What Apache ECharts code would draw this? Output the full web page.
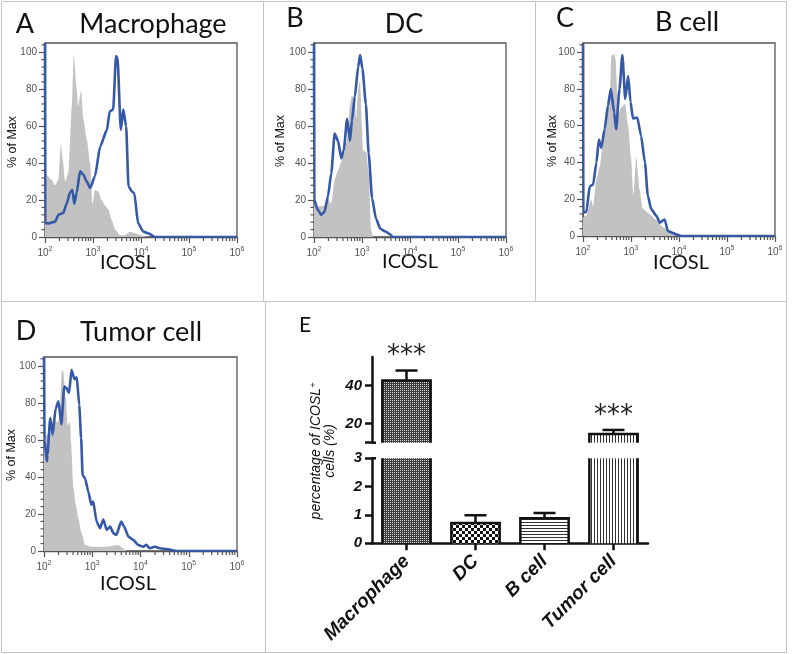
<!DOCTYPE html>
<html><head><meta charset="utf-8">
<script src="https://cdn.jsdelivr.net/npm/echarts@6/dist/echarts.min.js"></script>
<style>html,body{margin:0;padding:0;background:#fff}#c{width:793px;height:654px}</style>
</head><body><div id="c"></div>
<script>
// ---------------- DATA ----------------
const histTitles = ['Macrophage', 'DC', 'B cell', 'Tumor cell'];
const panelLetters = ['A', 'B', 'C', 'D', 'E'];
const xAxisTitle = 'ICOSL';
const yAxisTitle = '% of Max';
const xTickExponents = [2, 3, 4, 5, 6];           // labels 10^2 ... 10^6
const yTickValues = [0, 20, 40, 60, 80, 100];

// each point: [log10(ICOSL intensity), % of Max]
const macroIsotype = [[2.00,35],[2.14,31],[2.21,28],[2.28,31],[2.33,50],[2.37,42],[2.42,30],[2.49,35],[2.56,71],[2.60,99],[2.66,80],[2.69,71],[2.75,79],[2.80,64],[2.87,53],[2.94,40],[2.99,18],[3.04,25.5],[3.11,24.6],[3.18,20],[3.25,17],[3.32,15],[3.39,9],[3.46,4],[3.56,1],[3.67,1],[3.77,3],[3.88,2],[3.98,1],[4.12,0]];
const macroICOSL = [[2.00,105],[2.005,7.5],[2.07,7.4],[2.21,8.3],[2.28,12],[2.38,13],[2.45,18],[2.52,24],[2.57,25.5],[2.61,18],[2.66,24],[2.73,35.5],[2.80,33.7],[2.87,30],[2.94,26.5],[3.04,32.8],[3.15,49],[3.29,58],[3.35,68],[3.42,69],[3.48,98],[3.51,97],[3.58,58],[3.63,69],[3.69,60],[3.74,27.4],[3.81,24.6],[3.86,23.7],[3.94,7.4],[4.05,2.9],[4.15,2],[4.29,0],[6.00,0]];

const dcIsotype = [[2.00,18],[2.08,16.5],[2.22,17],[2.29,21],[2.36,18],[2.43,31],[2.50,36],[2.57,41],[2.64,46],[2.69,53],[2.75,71],[2.78,76],[2.85,76],[2.88,64],[2.92,80],[2.96,85],[3.00,60],[3.02,47],[3.09,46],[3.14,35],[3.19,4],[3.23,0]];
const dcICOSL = [[2.00,105],[2.005,20],[2.08,14.6],[2.15,12],[2.22,13.7],[2.29,22],[2.36,34.5],[2.43,56],[2.50,52],[2.57,42.5],[2.62,47],[2.69,64],[2.75,52],[2.79,63],[2.85,76],[2.92,92],[2.96,98.5],[3.01,91],[3.08,72],[3.14,45],[3.21,21],[3.29,10],[3.38,4.5],[3.49,3],[3.58,1.5],[3.64,0],[6.00,0]];

const bIsotype = [[2.00,10],[2.07,11],[2.17,20],[2.21,16],[2.28,31],[2.35,38],[2.42,51],[2.49,64],[2.56,75],[2.59,98],[2.65,99],[2.68,96],[2.73,66],[2.80,70],[2.88,72],[2.94,60],[3.00,43],[3.05,22],[3.11,43],[3.18,25],[3.24,15],[3.38,12],[3.52,9],[3.66,5],[3.80,2.7],[3.94,1.5],[4.02,0]];
const bICOSL = [[2.00,105],[2.005,13],[2.07,13],[2.14,27],[2.21,28],[2.28,40],[2.33,52.5],[2.38,48],[2.45,58],[2.52,71],[2.58,80],[2.65,67],[2.69,58],[2.76,80],[2.82,98.5],[2.88,74.5],[2.94,87],[2.99,73],[3.04,64],[3.13,64.5],[3.21,54.5],[3.29,40],[3.35,22],[3.42,14.6],[3.53,11],[3.60,7.3],[3.70,9],[3.77,2.7],[3.86,1.8],[3.94,0.9],[4.05,0],[6.00,0]];

const tumorIsotype = [[2.00,61],[2.16,65],[2.23,70],[2.30,70],[2.33,77],[2.37,98],[2.40,97],[2.45,83],[2.49,68],[2.54,70],[2.56,59],[2.61,34],[2.66,25],[2.71,18],[2.78,9.6],[2.85,3.3],[2.99,2.3],[3.26,2.3],[3.54,3.3],[3.64,1.5],[3.71,0]];
const tumorICOSL = [[2.00,105],[2.01,60],[2.06,48.5],[2.07,52],[2.13,72],[2.18,63],[2.24,77],[2.30,81],[2.36,68.5],[2.42,89],[2.47,88],[2.52,85.6],[2.57,98],[2.63,93],[2.68,94],[2.73,79],[2.77,61],[2.80,41],[2.85,39.4],[2.92,32],[2.98,25],[3.02,26.7],[3.09,16],[3.16,12.3],[3.23,17],[3.30,11.4],[3.37,13.2],[3.44,9.6],[3.50,8.7],[3.60,16],[3.66,13.2],[3.75,7.8],[3.85,6],[3.95,3.3],[4.06,2.3],[4.12,3.3],[4.19,1.5],[4.30,2.3],[4.40,1.5],[4.54,1],[4.75,0],[6.00,0]];

// panel E
const barCategories = ['Macrophage', 'DC', 'B cell', 'Tumor cell'];
const barMeans = [42.6, 0.72, 0.88, 14.6];
const barErrors = [5.3, 0.27, 0.19, 2.1];
const barSignificance = ['***', '', '', '***'];
const upperTickValues = [20, 40];
const lowerTickValues = [0, 1, 2, 3];

// ---------------- STYLE / LAYOUT ----------------
const isotypeSets = [macroIsotype, dcIsotype, bIsotype, tumorIsotype];
const icoslSets = [macroICOSL, dcICOSL, bICOSL, tumorICOSL];
const histGrids = [
  {left: 45, top: 43, width: 192, height: 194},
  {left: 314, top: 43, width: 192, height: 194},
  {left: 583, top: 43, width: 192, height: 193},
  {left: 44, top: 357, width: 193, height: 194}
];
const eUpperRect = {left: 372, top: 357, width: 276, height: 85.7};   // 10..55
const eLowerRect = {left: 372, top: 458.3, width: 276, height: 85};   // 0..3
const BLUE = '#3558a8', GREY = '#c2c2c2', FRAME = '#555', TXT = '#555';

const minorLog = [];
for (let n = 2; n < 6; n++) for (let k = 2; k <= 9; k++) minorLog.push(n + Math.log10(k));
const yMinor = [];
for (let v = 0; v <= 104; v += 4) if (v % 20) yMinor.push(v);

function makePattern(kind) {
  const c = document.createElement('canvas');
  const g = c.getContext('2d');
  if (kind === 'dense') {
    c.width = 2; c.height = 2;
    g.fillStyle = '#3c3c3c'; g.fillRect(0, 0, 2, 2);
    g.fillStyle = '#d8d8d8'; g.fillRect(0, 0, 1, 1);
  } else if (kind === 'checker') {
    c.width = 6; c.height = 6;
    g.fillStyle = '#111'; g.fillRect(0, 0, 6, 6);
    g.fillStyle = '#fff'; g.fillRect(0, 0, 3, 3); g.fillRect(3, 3, 3, 3);
  } else if (kind === 'hlines') {
    c.width = 4; c.height = 3;
    g.fillStyle = '#fff'; g.fillRect(0, 0, 4, 3);
    g.fillStyle = '#333'; g.fillRect(0, 0, 4, 1);
  } else {
    c.width = 3; c.height = 4;
    g.fillStyle = '#fff'; g.fillRect(0, 0, 3, 4);
    g.fillStyle = '#333'; g.fillRect(0, 0, 1, 4);
  }
  return {image: c, repeat: 'repeat'};
}
const barPatterns = [makePattern('dense'), makePattern('checker'), makePattern('hlines'), makePattern('vlines')];

const grid = [], xAxis = [], yAxis = [], series = [];
function addGrid(rect, extra) { grid.push(Object.assign({}, rect, extra || {})); return grid.length - 1; }
function addX(o) { xAxis.push(o); return xAxis.length - 1; }
function addY(o) { yAxis.push(o); return yAxis.length - 1; }

const histGridIdx = [];
histGrids.forEach((gd, p) => {
  const gi = addGrid(gd, {show: true, borderColor: FRAME, borderWidth: 1.3, backgroundColor: 'transparent'});
  histGridIdx.push(gi);
  const xi = addX({
    type: 'value', gridIndex: gi, min: 2, max: 6, interval: 1, position: 'bottom',
    axisLine: {show: true, onZero: false, lineStyle: {color: FRAME, width: 1.3}},
    axisTick: {show: true, length: 6, lineStyle: {color: FRAME, width: 1.2}},
    axisLabel: {
      show: true, margin: 9, customValues: xTickExponents,
      formatter: v => '{b|10}{s|' + v + '}',
      rich: {b: {fontSize: 10, color: TXT, fontFamily: 'Liberation Sans', lineHeight: 14},
             s: {fontSize: 7, color: TXT, fontFamily: 'Liberation Sans', verticalAlign: 'top', lineHeight: 14}}
    },
    splitLine: {show: false}
  });
  const yi = addY({
    type: 'value', gridIndex: gi, min: 0, max: 105, position: 'left',
    axisLine: {show: true, onZero: false, lineStyle: {color: FRAME, width: 1.3}},
    axisTick: {show: true, length: 6, customValues: yTickValues, lineStyle: {color: FRAME, width: 1.2}},
    axisLabel: {show: true, customValues: yTickValues, fontSize: 10, color: TXT, margin: 8, fontFamily: 'Liberation Sans'},
    splitLine: {show: false}
  });
  series.push({
    type: 'line', name: 'isotype', xAxisIndex: xi, yAxisIndex: yi,
    data: isotypeSets[p], showSymbol: false, symbol: 'none', smooth: 0.2, smoothMonotone: 'x',
    lineStyle: {width: 0, color: GREY}, areaStyle: {color: GREY, opacity: 1}, z: 2
  });
  series.push({
    type: 'line', name: 'ICOSL', xAxisIndex: xi, yAxisIndex: yi,
    data: icoslSets[p], showSymbol: false, symbol: 'none', smooth: 0.2, smoothMonotone: 'x',
    lineStyle: {width: 2.6, color: BLUE, join: 'round'}, z: 3
  });
});

// Panel E: two stacked grids (broken y axis)
const eLabelStyle = {fontSize: 15, fontStyle: 'italic', fontWeight: 'bold', color: '#111', fontFamily: 'Liberation Sans', margin: 10};
const gUp = addGrid(eUpperRect), gLo = addGrid(eLowerRect);
const xUp = addX({type: 'category', gridIndex: gUp, data: barCategories, show: false});
const xLo = addX({
  type: 'category', gridIndex: gLo, data: barCategories, position: 'bottom',
  axisLine: {show: true, lineStyle: {color: '#111', width: 2.5}},
  axisTick: {show: true, alignWithLabel: true, length: 7, lineStyle: {color: '#111', width: 2.5}},
  axisLabel: {interval: 0, rotate: 45, margin: 15, fontSize: 19, fontStyle: 'italic', fontWeight: 'bold', color: '#111', fontFamily: 'Liberation Sans'}
});
const yUp = addY({
  type: 'value', gridIndex: gUp, min: 10, max: 55, position: 'left',
  axisLine: {show: true, onZero: false, lineStyle: {color: '#111', width: 2.5}},
  axisTick: {show: true, length: 7, customValues: [10].concat(upperTickValues), lineStyle: {color: '#111', width: 2.5}},
  axisLabel: Object.assign({customValues: upperTickValues}, eLabelStyle),
  splitLine: {show: false}
});
const yLo = addY({
  type: 'value', gridIndex: gLo, min: 0, max: 3, position: 'left',
  axisLine: {show: true, onZero: false, lineStyle: {color: '#111', width: 2.5}},
  axisTick: {show: true, length: 7, customValues: lowerTickValues, lineStyle: {color: '#111', width: 2.5}},
  axisLabel: Object.assign({customValues: lowerTickValues}, eLabelStyle),
  splitLine: {show: false}
});

const barData = barCategories.map((c, i) => [i, barMeans[i], barErrors[i]]);
function renderBar(params, api) {
  const i = api.value(0), v = api.value(1), err = api.value(2);
  const cs = params.coordSys;
  const topPt = api.coord([i, v]);
  const basePt = api.coord([i, 0]);
  const bw = api.size([1, 0])[0] * 0.7;
  const cx = topPt[0], x0 = cx - bw / 2, x1 = cx + bw / 2;
  const yTop = Math.max(topPt[1], cs.y);
  const yBot = Math.min(basePt[1], cs.y + cs.height);
  if (yTop >= yBot) return null;
  const showTop = topPt[1] >= cs.y;
  const st = {stroke: '#111', lineWidth: 2.5, fill: null};
  const ch = [{type: 'rect', shape: {x: x0, y: yTop, width: bw, height: yBot - yTop}, style: {fill: barPatterns[i]}}];
  if (showTop) {
    const ePt = api.coord([i, v + err]);
    ch.push({type: 'line', shape: {x1: cx, y1: topPt[1], x2: cx, y2: ePt[1]}, style: st});
    ch.push({type: 'line', shape: {x1: cx - 11, y1: ePt[1], x2: cx + 11, y2: ePt[1]}, style: st});
    ch.push({type: 'polyline', shape: {points: [[x0, yBot], [x0, yTop], [x1, yTop], [x1, yBot]]}, style: st});
    if (barSignificance[i]) {
      ch.push({type: 'text', style: {text: barSignificance[i], x: cx, y: ePt[1] - 14, align: 'center', verticalAlign: 'middle',
        font: '26px "DejaVu Sans"', fill: '#222'}});
    }
  } else {
    ch.push({type: 'line', shape: {x1: x0, y1: yTop, x2: x0, y2: yBot}, style: st});
    ch.push({type: 'line', shape: {x1: x1, y1: yTop, x2: x1, y2: yBot}, style: st});
  }
  return {type: 'group', children: ch};
}
series.push({type: 'custom', name: 'upper', xAxisIndex: xUp, yAxisIndex: yUp, data: barData, renderItem: renderBar, z: 3});
series.push({type: 'custom', name: 'lower', xAxisIndex: xLo, yAxisIndex: yLo, data: barData, renderItem: renderBar, z: 3});

// ---------------- TEXT / PANEL FRAMES ----------------
const divider = {stroke: '#c4c4c4', lineWidth: 1};
const titleFont = '27px Lato';
const graphic = [
  {type: 'rect', shape: {x: 1.5, y: 1.5, width: 785, height: 651}, style: {fill: null, stroke: '#c4c4c4', lineWidth: 1}, silent: true},
  {type: 'line', shape: {x1: 1.5, y1: 301.5, x2: 786.5, y2: 301.5}, style: divider},
  {type: 'line', shape: {x1: 263.5, y1: 1.5, x2: 263.5, y2: 301.5}, style: divider},
  {type: 'line', shape: {x1: 535.5, y1: 1.5, x2: 535.5, y2: 301.5}, style: divider},
  {type: 'line', shape: {x1: 265.5, y1: 301.5, x2: 265.5, y2: 652.5}, style: divider}
];
function txt(text, x, y, font, extra) {
  graphic.push(Object.assign({type: 'text', x: x, y: y,
    style: {text: text, font: font, fill: '#111', align: 'center', verticalAlign: 'middle'}}, extra || {}));
}
const letterPos = [[25, 24], [295, 18], [565, 18], [26, 331], [305, 325]];
const titlePos = [[153, 24], [404, 24], [687, 22], [141, 332]];
const xNamePos = [[128, 263], [410, 262], [681, 263], [128, 584]];
const yNamePos = [[13, 142], [281, 141], [553, 141], [12, 455]];
panelLetters.forEach((l, i) => txt(l, letterPos[i][0], letterPos[i][1], i === 4 ? '21px Lato' : titleFont));
histTitles.forEach((t, i) => {
  txt(t, titlePos[i][0], titlePos[i][1], titleFont);
  txt(xAxisTitle, xNamePos[i][0], xNamePos[i][1], '20px Lato');
  txt(yAxisTitle, yNamePos[i][0], yNamePos[i][1], '12.5px "Liberation Sans"', {rotation: Math.PI / 2});
});
graphic.push({
  type: 'text', x: 323, y: 451, rotation: Math.PI / 2,
  style: {
    text: '{a|percentage of ICOSL}{s|+}\n{a|cells (%)}',
    align: 'center', verticalAlign: 'middle',
    rich: {
      a: {fontSize: 14, fontStyle: 'italic', fontFamily: 'Liberation Sans', fill: '#111', lineHeight: 14},
      s: {fontSize: 9, fontStyle: 'italic', fontFamily: 'Liberation Sans', fill: '#111', lineHeight: 14, verticalAlign: 'top'}
    }
  }
});

const chart = echarts.init(document.getElementById('c'));
chart.setOption({animation: false, backgroundColor: '#fff', grid, xAxis, yAxis, series, graphic});

// minor ticks (log decades on x, every 4 % on y) and break marks, placed through the axes' scales
const tickEls = [];
function seg(x1, y1, x2, y2, color, w) {
  tickEls.push({type: 'line', silent: true, z: 10, shape: {x1, y1, x2, y2}, style: {stroke: color, lineWidth: w}});
}
histGridIdx.forEach((gi, p) => {
  const gd = histGrids[p], yb = gd.top + gd.height, xl = gd.left;
  minorLog.forEach(v => { const px = chart.convertToPixel({gridIndex: gi}, [v, 0])[0]; seg(px, yb, px, yb + 4, FRAME, 1.2); });
  yMinor.forEach(v => { const py = chart.convertToPixel({gridIndex: gi}, [2, v])[1]; seg(xl, py, xl - 3.5, py, FRAME, 1.2); });
});
const pUp = chart.convertToPixel({gridIndex: gUp}, [0, 10]);
const pLo = chart.convertToPixel({gridIndex: gLo}, [0, 3]);
seg(eUpperRect.left, pUp[1], eUpperRect.left + 4, pUp[1], '#111', 2.5);
seg(eLowerRect.left, pLo[1], eLowerRect.left + 4, pLo[1], '#111', 2.5);
chart.setOption({graphic: graphic.concat(tickEls)});
</script></body></html>
